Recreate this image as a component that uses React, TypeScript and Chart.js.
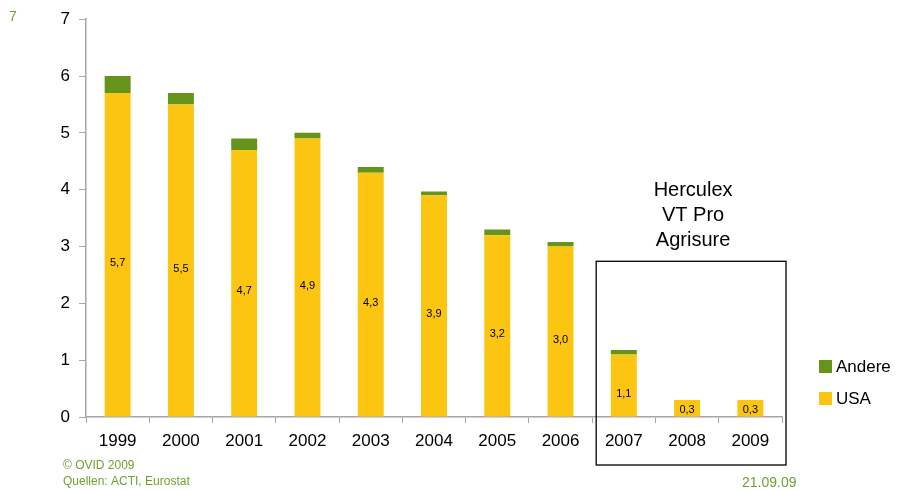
import React, { useEffect, useRef } from "react";
import { Chart, registerables } from "chart.js";

Chart.register(...registerables);

const years = ["1999", "2000", "2001", "2002", "2003", "2004", "2005", "2006", "2007", "2008", "2009"];
const usa = [5.7, 5.5, 4.7, 4.9, 4.3, 3.9, 3.2, 3.0, 1.1, 0.3, 0.3];
const andere = [0.3, 0.2, 0.2, 0.1, 0.1, 0.07, 0.1, 0.08, 0.08, 0, 0];
const yTicks = [0, 1, 2, 3, 4, 5, 6, 7];
const boxLabel = ["Herculex", "VT Pro", "Agrisure"];
const boxYears = ["2007", "2009"];
const pageNumber = "7";
const footerLines = ["© OVID 2009", "Quellen: ACTI, Eurostat"];
const dateText = "21.09.09";

const YELLOW = "#FBC512";
const GREEN = "#66931B";
const TEXT_GREEN = "#6FA12F";
const AXIS = "#A6A6A6";
const FONT = "Arial, 'Liberation Sans', sans-serif";

const extrasPlugin = {
  id: "extras",
  afterDatasetsDraw(chart: any) {
    const ctx = chart.ctx;
    const xs = chart.scales.x;
    const ys = chart.scales.y;
    // value labels on USA segments
    const meta = chart.getDatasetMeta(0);
    ctx.save();
    ctx.fillStyle = "#000";
    ctx.font = `11px ${FONT}`;
    ctx.textAlign = "center";
    ctx.textBaseline = "middle";
    meta.data.forEach((bar: any, i: number) => {
      const top = bar.y;
      const base = bar.base;
      let cy = (top + base) / 2 + 8;
      if (cy > base - 7) cy = base - 7;
      ctx.fillText(usa[i].toFixed(1).replace(".", ","), bar.x, cy);
    });
    ctx.restore();
  },
  afterDraw(chart: any) {
    const ctx = chart.ctx;
    const xs = chart.scales.x;
    const ys = chart.scales.y;
    const step = xs.getPixelForValue(1) - xs.getPixelForValue(0);
    const i0 = years.indexOf(boxYears[0]);
    const i1 = years.indexOf(boxYears[1]);
    const left = xs.getPixelForValue(i0) - step / 2 + 4;
    const right = xs.getPixelForValue(i1) + step / 2 + 4;
    const top = ys.getPixelForValue(2.74);
    const bottom = ys.bottom + 48;
    ctx.save();
    ctx.strokeStyle = "#000";
    ctx.lineWidth = 1.3;
    ctx.strokeRect(left, top, right - left, bottom - top);
    // box label
    ctx.fillStyle = "#000";
    ctx.font = `20px ${FONT}`;
    ctx.textAlign = "center";
    ctx.textBaseline = "middle";
    const cx = (left + right) / 2 + 2;
    boxLabel.forEach((t, k) => ctx.fillText(t, cx, top - 71 + k * 25));

    // legend
    const lx = 819;
    const items = [
      { label: "Andere", color: GREEN, y: 366 },
      { label: "USA", color: YELLOW, y: 398 },
    ];
    ctx.font = `17px ${FONT}`;
    ctx.textAlign = "left";
    items.forEach((it) => {
      ctx.fillStyle = it.color;
      ctx.fillRect(lx, it.y - 6, 13, 13);
      ctx.fillStyle = "#000";
      ctx.fillText(it.label, lx + 17, it.y + 1);
    });

    // page number, footer, date
    ctx.fillStyle = TEXT_GREEN;
    ctx.font = `14px ${FONT}`;
    ctx.fillText(pageNumber, 9, 17);
    ctx.font = `12px ${FONT}`;
    footerLines.forEach((t, k) => ctx.fillText(t, 63, 466 + k * 16));
    ctx.font = `14px ${FONT}`;
    ctx.fillText(dateText, 742, 483);
    ctx.restore();
  },
};

export default function App() {
  const ref = useRef<HTMLCanvasElement | null>(null);
  useEffect(() => {
    if (!ref.current) return;
    const chart = new Chart(ref.current, {
      type: "bar",
      data: {
        labels: years,
        datasets: [
          { label: "USA", data: usa, backgroundColor: YELLOW, barPercentage: 0.41, categoryPercentage: 1 },
          { label: "Andere", data: andere, backgroundColor: GREEN, barPercentage: 0.41, categoryPercentage: 1 },
        ],
      },
      options: {
        animation: false,
        responsive: false,
        devicePixelRatio: 1,
        layout: { padding: { left: 0, right: 117, top: 19, bottom: 23 } },
        plugins: { legend: { display: false }, tooltip: { enabled: false } },
        scales: {
          x: {
            stacked: true,
            grid: { display: true, drawOnChartArea: false, tickLength: 6, color: AXIS, offset: true },
            border: { color: AXIS, width: 1.5 },
            ticks: { color: "#000", font: { size: 17, family: FONT }, padding: 8, maxRotation: 0, autoSkip: false },
            afterFit: (s: any) => { s.height = 50; },
          },
          y: {
            stacked: true,
            min: 0,
            max: 7,
            afterBuildTicks: (s: any) => { s.ticks = yTicks.map((v) => ({ value: v })); },
            grid: { display: true, drawOnChartArea: false, tickLength: 7, color: AXIS },
            border: { color: AXIS, width: 1.5 },
            ticks: { color: "#000", font: { size: 17, family: FONT }, padding: 9 },
            afterFit: (s: any) => { s.width = 86; },
          },
        },
      },
      plugins: [extrasPlugin],
    });
    return () => chart.destroy();
  }, []);
  return (
    <div style={{ position: "fixed", left: 0, top: 0, width: 899, height: 490, background: "#fff" }}>
      <canvas ref={ref} width={899} height={490} style={{ width: 899, height: 490 }} />
    </div>
  );
}
